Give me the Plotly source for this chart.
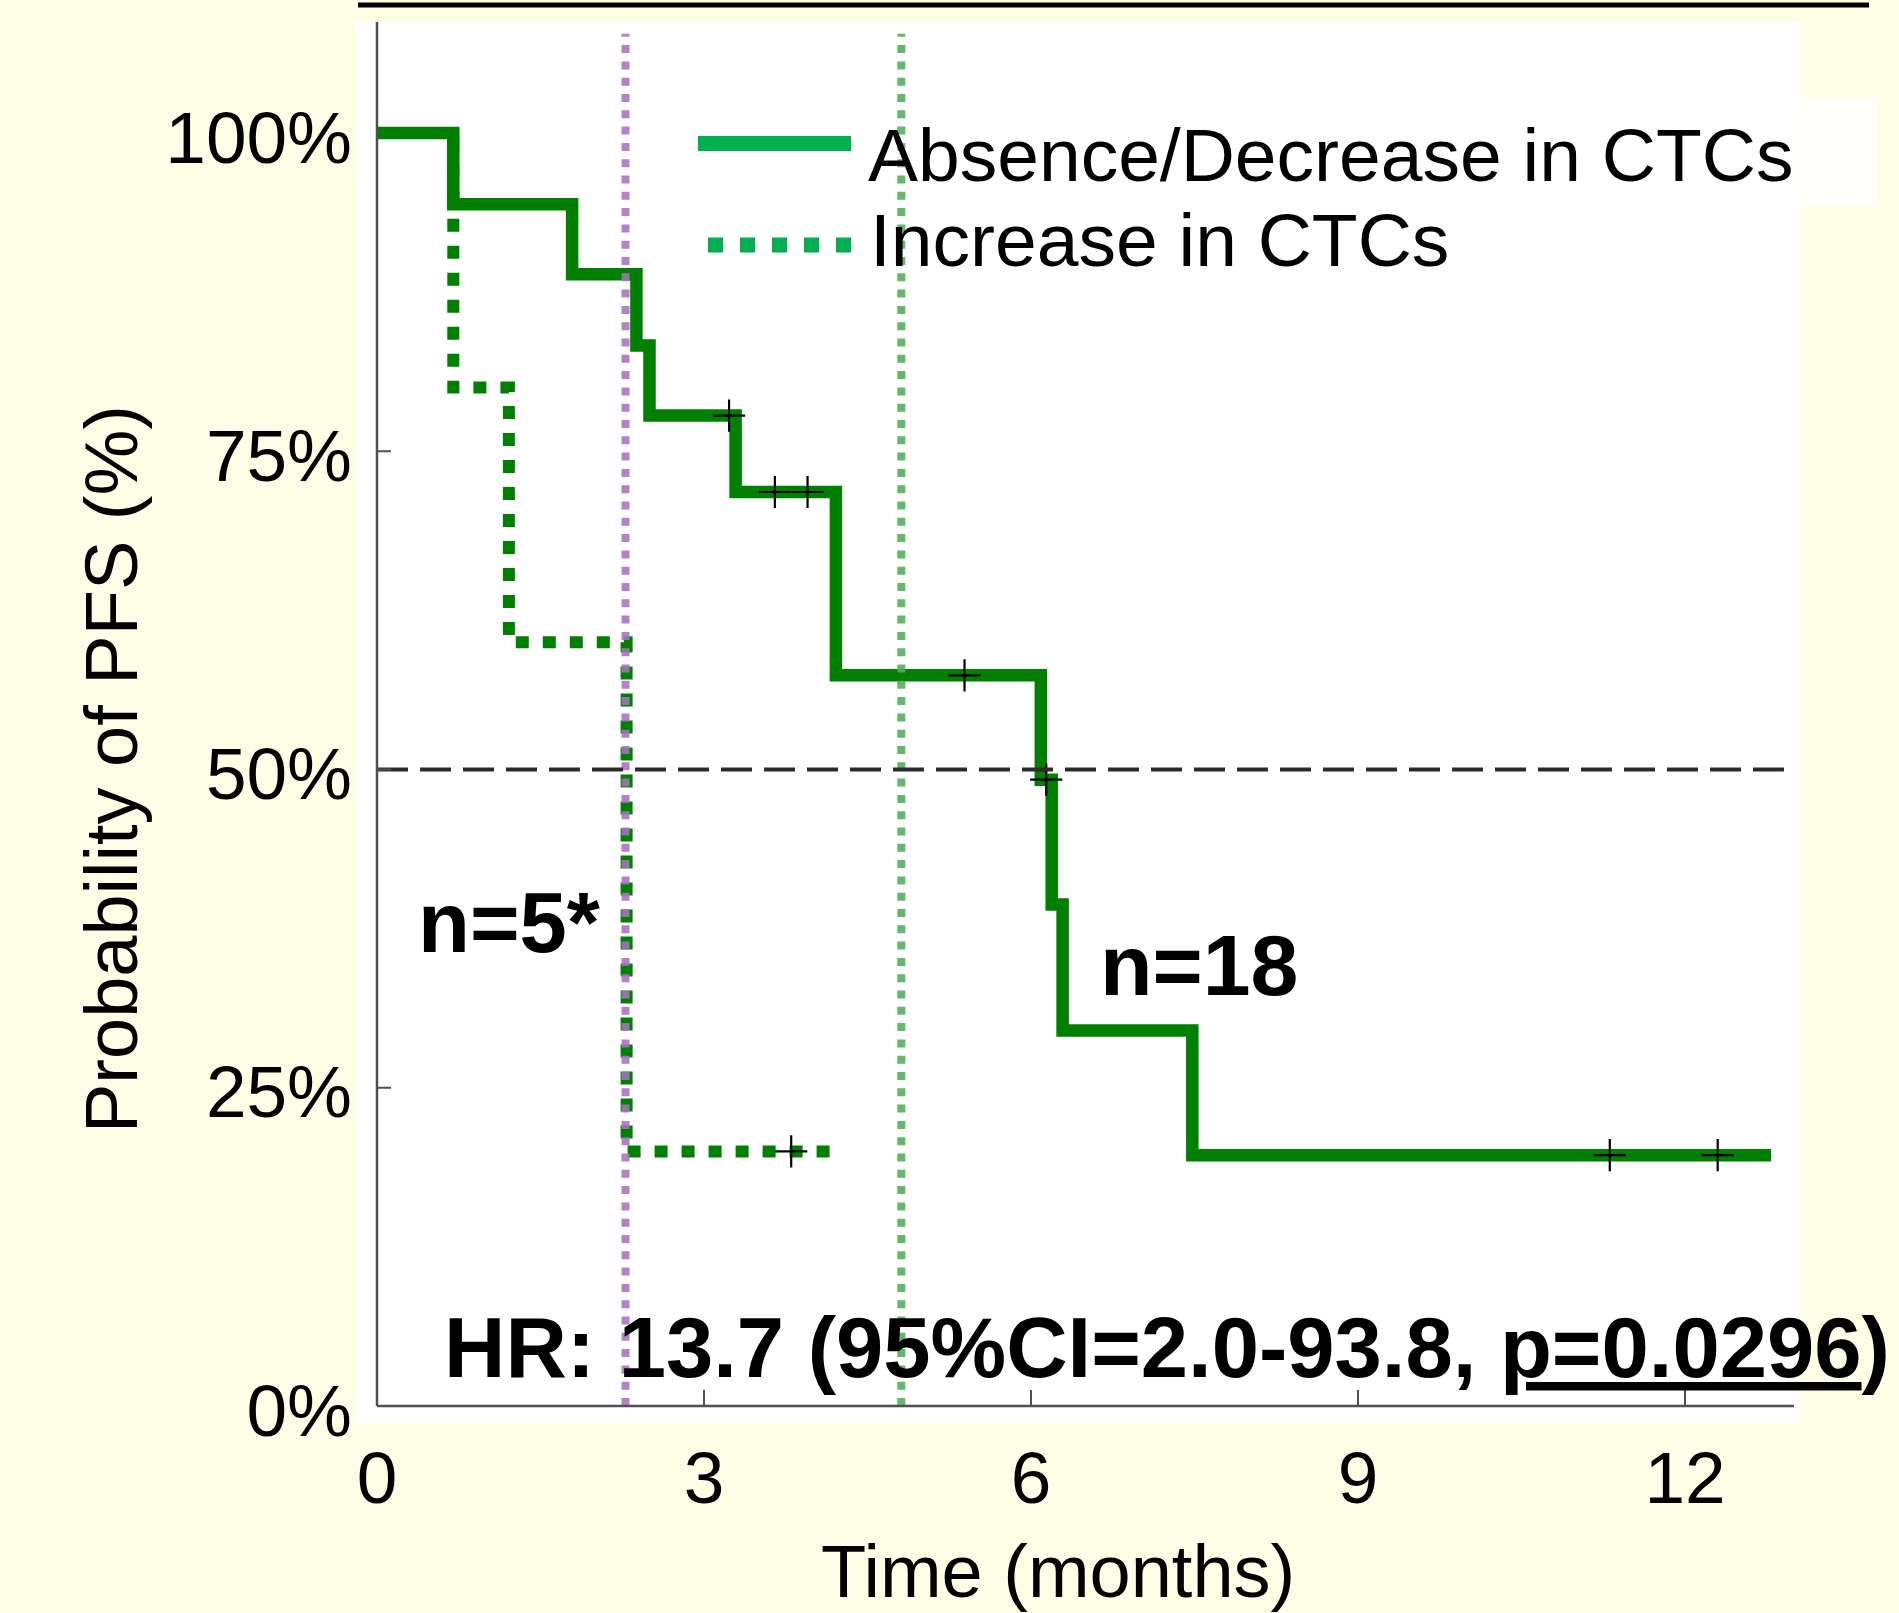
import plotly.graph_objects as go

# ---------------- data ----------------
months_abs = [0, 0.70, 1.79, 2.38, 2.50, 3.29, 4.21, 6.09, 6.19, 6.29, 7.48, 12.79]
pfs_abs = [100, 94.4, 88.9, 83.3, 77.8, 71.8, 57.4, 49.2, 39.4, 29.5, 19.7, 19.7]
cens_abs_months = [3.23, 3.65, 3.95, 5.39, 6.14, 11.31, 12.30]
cens_abs_pfs = [77.8, 71.8, 71.8, 57.4, 49.2, 19.7, 19.7]

months_inc = [0, 0.70, 1.21, 2.29, 4.27]
pfs_inc = [100, 80, 60, 20, 20]
cens_inc_months = [3.80]
cens_inc_pfs = [20]

ref_months = [2.28, 4.81]
median_level = 50

x_tick_vals = [0, 3, 6, 9, 12]
x_tick_text = ["0", "3", "6", "9", "12"]
y_tick_vals = [0, 25, 50, 75, 100]
y_tick_text = ["0%", "25%", "50%", "75%", "100%"]
x_mark_vals = [3, 6, 9, 12]
y_mark_vals = [25, 50, 75]

legend_labels = ["Absence/Decrease in CTCs", "Increase in CTCs"]
n_labels = ["n=5*", "n=18"]
hr_label = "HR: 13.7 (95%CI=2.0-93.8, <u>p=0.0296</u>)"
x_title = "Time (months)"
y_title = "Probability of PFS (%)"

# ---------------- layout geometry (pixels) ----------------
W, H = 1899, 1613
L, R, T, B = 356, 99, 22, 190
X0PX, PXM = 377, 109.0     # pixel of month 0, pixels per month
Y0PX, PXP = 1406, 12.73    # pixel of 0 %, pixels per percent
x_range = [(L - X0PX) / PXM, (W - R - X0PX) / PXM]
y_range = [(Y0PX - (H - B)) / PXP, (Y0PX - T) / PXP]
X_END = 13.0
REF_TOP = 107.8


def pxx(p):
    return (p - L) / (W - L - R)


def pxy(p):
    return ((H - B) - p) / (H - T - B)


FONT = "Liberation Sans, Arial, sans-serif"
DARK_GREEN = "#008000"
LEGEND_GREEN = "#00B050"
PURPLE = "#A872C0"
REF_GREEN = "#4FAF55"
AXIS_COL = "#505050"

fig = go.Figure()

fig.add_trace(go.Scatter(
    x=months_inc, y=pfs_inc, mode="lines", line_shape="hv",
    line=dict(color=DARK_GREEN, width=12, dash="13px,14px"),
    name=legend_labels[1], showlegend=False, hoverinfo="skip"))
fig.add_trace(go.Scatter(
    x=months_abs, y=pfs_abs, mode="lines", line_shape="hv",
    line=dict(color=DARK_GREEN, width=12.5),
    name=legend_labels[0], showlegend=False, hoverinfo="skip"))
fig.add_trace(go.Scatter(
    x=cens_abs_months + cens_inc_months, y=cens_abs_pfs + cens_inc_pfs,
    mode="markers",
    marker=dict(symbol="cross-thin", size=23, color="black",
                line=dict(width=2.2, color="black")),
    showlegend=False, hoverinfo="skip"))

shapes = []
# white extension of the legend box
shapes.append(dict(type="rect", xref="paper", yref="paper",
                   x0=pxx(1800), x1=pxx(1877), y0=pxy(206), y1=pxy(98),
                   fillcolor="#FFFFFB", line=dict(width=0), layer="below"))
# top black rule
shapes.append(dict(type="line", xref="paper", yref="paper",
                   x0=pxx(358), x1=pxx(1869), y0=pxy(5), y1=pxy(5),
                   line=dict(color="black", width=5)))
# reference vertical lines
for xm, col in zip(ref_months, [PURPLE, REF_GREEN]):
    shapes.append(dict(type="line", xref="x", yref="y", x0=xm, x1=xm,
                       y0=0, y1=REF_TOP, opacity=0.88,
                       line=dict(color=col, width=8, dash="8px,8.3px")))
# median line
shapes.append(dict(type="line", xref="x", yref="y", x0=0, x1=X_END,
                   y0=median_level, y1=median_level,
                   line=dict(color="#2b2b2b", width=4, dash="31px,12px")))
# axis lines
shapes.append(dict(type="line", xref="x", yref="y", x0=0, x1=X_END, y0=0, y1=0,
                   line=dict(color=AXIS_COL, width=2.5)))
shapes.append(dict(type="line", xref="x", yref="y", x0=0, x1=0, y0=0, y1=y_range[1],
                   line=dict(color=AXIS_COL, width=2.5)))
for v in x_mark_vals:
    shapes.append(dict(type="line", xref="x", yref="y", x0=v, x1=v,
                       y0=0, y1=16 / PXP, line=dict(color=AXIS_COL, width=2)))
for v in y_mark_vals:
    shapes.append(dict(type="line", xref="x", yref="y", x0=0, x1=14 / PXM,
                       y0=v, y1=v, line=dict(color=AXIS_COL, width=2)))
# legend samples
shapes.append(dict(type="line", xref="paper", yref="paper",
                   x0=pxx(698), x1=pxx(851), y0=pxy(143.5), y1=pxy(143.5),
                   line=dict(color=LEGEND_GREEN, width=15)))
shapes.append(dict(type="line", xref="paper", yref="paper",
                   x0=pxx(708), x1=pxx(852), y0=pxy(245), y1=pxy(245),
                   line=dict(color=LEGEND_GREEN, width=15, dash="15px,17px")))

annotations = []
annotations.append(dict(text=legend_labels[0], xref="paper", yref="paper",
                        x=pxx(866), y=pxy(155), xanchor="left", yanchor="middle",
                        showarrow=False, font=dict(family=FONT, size=75, color="black")))
annotations.append(dict(text=legend_labels[1], xref="paper", yref="paper",
                        x=pxx(868), y=pxy(240), xanchor="left", yanchor="middle",
                        showarrow=False, font=dict(family=FONT, size=75, color="black")))
annotations.append(dict(text="<b>" + n_labels[0] + "</b>", xref="paper", yref="paper",
                        x=pxx(416), y=pxy(922), xanchor="left", yanchor="middle",
                        showarrow=False, font=dict(family=FONT, size=85, color="black")))
annotations.append(dict(text="<b>" + n_labels[1] + "</b>", xref="paper", yref="paper",
                        x=pxx(1098), y=pxy(965), xanchor="left", yanchor="middle",
                        showarrow=False, font=dict(family=FONT, size=86, color="black")))
annotations.append(dict(text="<b>" + hr_label + "</b>", xref="paper", yref="paper",
                        x=pxx(442), y=pxy(1347), xanchor="left", yanchor="middle",
                        showarrow=False, font=dict(family=FONT, size=85, color="black")))
annotations.append(dict(text=x_title, xref="paper", yref="paper",
                        x=pxx(1058), y=pxy(1571), xanchor="center", yanchor="middle",
                        showarrow=False, font=dict(family=FONT, size=74, color="black")))
annotations.append(dict(text=y_title, xref="paper", yref="paper",
                        x=pxx(111), y=pxy(769), xanchor="center", yanchor="middle",
                        textangle=-90,
                        showarrow=False, font=dict(family=FONT, size=74, color="black")))

fig.update_layout(
    template="none",
    width=W, height=H,
    margin=dict(l=L, r=R, t=T, b=B, pad=0),
    paper_bgcolor="#FEFEE6",
    plot_bgcolor="#FFFFFF",
    showlegend=False,
    shapes=shapes,
    annotations=annotations,
    xaxis=dict(range=x_range, showgrid=False, zeroline=False, showline=False,
               ticks="", tickmode="array", tickvals=x_tick_vals, ticktext=x_tick_text,
               tickfont=dict(family=FONT, size=73, color="black"),
               ticklabelstandoff=6, automargin=False, fixedrange=True),
    yaxis=dict(range=y_range, showgrid=False, zeroline=False, showline=False,
               ticks="", tickmode="array", tickvals=y_tick_vals, ticktext=y_tick_text,
               tickfont=dict(family=FONT, size=73, color="black"),
               ticklabelstandoff=3, ticklabelshift=4, automargin=False, fixedrange=True),
)

fig.write_html(
    "out.html",
    config={"displayModeBar": False},
    post_script="document.body.style.margin='0px';"
                "document.documentElement.style.overflow='hidden';"
                "document.body.style.background='#FEFEE6';",
)
